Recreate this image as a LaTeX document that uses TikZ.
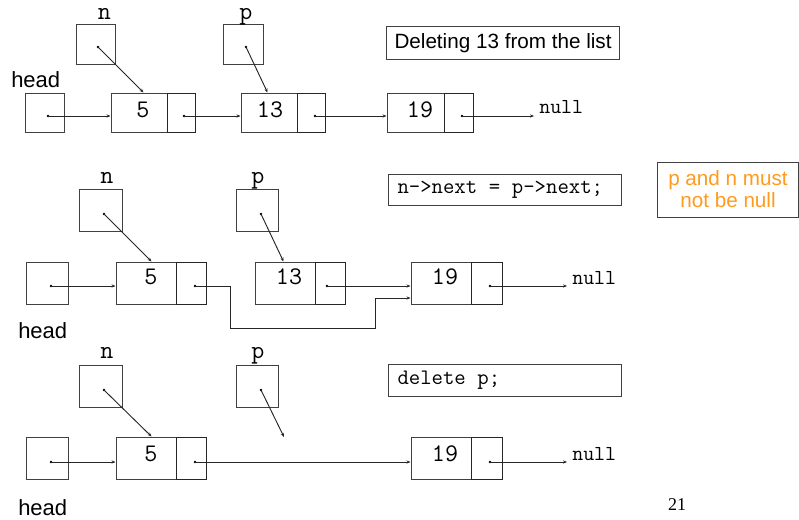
\documentclass[tikz,border=0pt]{standalone}
\usepackage{fontspec}
\setmainfont{Liberation Serif}
\setsansfont{Liberation Sans}
\usetikzlibrary{arrows.meta,calc}
\definecolor{boxline}{HTML}{404040}
\definecolor{warnorange}{HTML}{FF9A1F}
\newcommand{\monospc}{\hspace*{0.525em}}
\begin{document}
\begin{tikzpicture}[x=0.75pt,y=-0.75pt,
  cell/.style 2 args={draw=boxline, line width=0.75pt, inner sep=0pt, minimum width=#1, minimum height=#2},
  pcell/.style 2 args={draw=black!85, line width=0.75pt, inner sep=0pt, minimum width=#1, minimum height=#2},
  ptr/.style={draw=black!85, line width=0.7pt, -{Stealth[length=3pt,width=2.4pt]}},
  dotmark/.style={fill=black},
  lbl/.style={font=\fontsize{16.5}{19}\sffamily, inner sep=0pt},
  var/.style={font=\fontsize{19}{22}\ttfamily, inner sep=0pt, anchor=base},
  num/.style={font=\fontsize{19}{22}\ttfamily, inner sep=0pt, anchor=base},
  nulltxt/.style={font=\fontsize{16}{18}\ttfamily, inner sep=0pt, anchor=base west},
  codebox/.style={draw=boxline, line width=0.75pt, font=\fontsize{16.6}{18}\ttfamily, align=left, inner xsep=6.75pt, inner ysep=0pt, text width=161.25pt, anchor=north west},
]
\useasboundingbox (0,0) rectangle (799,519);

%% ================= Section 1 =================
\node[lbl, anchor=base west] (head1) at (11,87) {head};
\node[cell={29.25pt}{29.25pt}] (h1) at (44.5,112.5) {};
\node[cell={29.25pt}{30pt}] (n1) at (95.5,44) {};
\node[cell={30pt}{30pt}] (p1) at (243,44) {};
\node[var] (nl1) at (104.5,19) {n};
\node[var] (pl1) at (246,19) {p};
\node[cell={42pt}{29.25pt}] (d5a) at (139,112.5) {};
\node[pcell={21pt}{29.25pt}] (q5a) at (181,112.5) {};
\node[cell={42pt}{29.25pt}] (d13a) at (269,112.5) {};
\node[pcell={21pt}{29.25pt}] (q13a) at (311,112.5) {};
\node[cell={42.75pt}{29.25pt}] (d19a) at (415.5,112.5) {};
\node[pcell={21.75pt}{29.25pt}] (q19a) at (458.5,112.5) {};
\node[num] (t5a) at (143,117) {5};
\node[num] (t13a) at (270,117) {13};
\node[num] (t19a) at (420,117) {19};
\node[nulltxt] (null1) at (539,113) {null};
\node[draw=boxline, line width=0.75pt, font=\fontsize{15.5}{18}\sffamily, inner xsep=6pt, inner ysep=0pt, minimum height=24.75pt, anchor=north west] (cap1) at (386,26) {Deleting 13 from the list};

\coordinate (hd1) at (48,116);
\coordinate (nd1) at (98,47);
\coordinate (pd1) at (246,47);
\coordinate (q5d1) at (184,116);
\coordinate (q13d1) at (315,116);
\coordinate (q19d1) at (462,116);
\foreach \c in {hd1,nd1,pd1,q5d1,q13d1,q19d1} \fill[dotmark] (\c) circle[radius=1.1pt];
\draw[ptr] (hd1) -- (hd1 -| d5a.west);
\draw[ptr] (q5d1) -- (q5d1 -| d13a.west);
\draw[ptr] (q13d1) -- (q13d1 -| d19a.west);
\draw[ptr, shorten >=3.75pt] (q19d1) -- (q19d1 -| null1.west);
\draw[ptr] (nd1) -- ($(d5a.north west)+(33,0)$);
\draw[ptr] (pd1) -- ($(d13a.north west)+(27,0)$);

%% ================= Section 2 =================
\node[lbl, anchor=base west] (head2) at (18,338) {head};
\node[cell={31.5pt}{31.5pt}] (h2) at (47,283) {};
\node[cell={32.25pt}{31.5pt}] (n2) at (100.5,210) {};
\node[cell={31.5pt}{31.5pt}] (p2) at (257,210) {};
\node[var] (nl2) at (107,183) {n};
\node[var] (pl2) at (258,183) {p};
\node[cell={45pt}{31.5pt}] (d5b) at (146,283) {};
\node[pcell={22.5pt}{31.5pt}] (q5b) at (191,283) {};
\node[cell={45pt}{31.5pt}] (d13b) at (285,283) {};
\node[pcell={22.5pt}{31.5pt}] (q13b) at (330,283) {};
\node[cell={45pt}{31.5pt}] (d19b) at (441,283) {};
\node[pcell={23.25pt}{31.5pt}] (q19b) at (486.5,283) {};
\node[num] (t5b) at (151,284) {5};
\node[num] (t13b) at (289,284) {13};
\node[num] (t19b) at (445,284) {19};
\node[nulltxt] (null2) at (572,284) {null};
\node[codebox, minimum height=23.25pt] (cap2) at (388,174) {n->next\monospc=\monospc p->next;};
\node[draw=boxline, line width=0.75pt, text=warnorange, font=\fontsize{15.5}{16.5}\sffamily, align=center, inner sep=0pt, minimum width=105.75pt, minimum height=41.25pt] (warn) at (728,189.5) {p and n must\\not be null};

\coordinate (hd2) at (51,286);
\coordinate (nd2) at (104,214);
\coordinate (pd2) at (261,214);
\coordinate (q5d2) at (195,286);
\coordinate (q13d2) at (327,286);
\coordinate (q19d2) at (490,286);
\foreach \c in {hd2,nd2,pd2,q5d2,q13d2,q19d2} \fill[dotmark] (\c) circle[radius=1.1pt];
\draw[ptr] (hd2) -- (hd2 -| d5b.west);
\draw[ptr] (q13d2) -- (q13d2 -| d19b.west);
\draw[ptr] (q5d2) -- ++(35,0) -- ++(0,42) -- ++(145,0) |- ($(d19b.west)+(0,15)$);
\draw[ptr, shorten >=3.75pt] (q19d2) -- (q19d2 -| null2.west);
\draw[ptr] (nd2) -- ($(d5b.north west)+(36,0)$);
\draw[ptr] (pd2) -- ($(d13b.north west)+(29,0)$);

%% ================= Section 3 =================
\node[lbl, anchor=base west] (head3) at (18,515) {head};
\node[cell={31.5pt}{31.5pt}] (h3) at (47,458) {};
\node[cell={32.25pt}{31.5pt}] (n3) at (100.5,386) {};
\node[cell={31.5pt}{31.5pt}] (p3) at (257,386) {};
\node[var] (nl3) at (107,358) {n};
\node[var] (pl3) at (258,358) {p};
\node[cell={45pt}{31.5pt}] (d5c) at (146,458) {};
\node[pcell={22.5pt}{31.5pt}] (q5c) at (191,458) {};
\node[cell={45pt}{31.5pt}] (d19c) at (441,458.5) {};
\node[pcell={23.25pt}{31.5pt}] (q19c) at (486.5,458.5) {};
\node[num] (t5c) at (151,461) {5};
\node[num] (t19c) at (445,461) {19};
\node[nulltxt] (null3) at (572,460) {null};
\node[codebox, minimum height=24pt] (cap3) at (388,364) {delete\monospc p;};
\node[font=\fontsize{13.5}{16}\selectfont, inner sep=0pt, anchor=base] (page) at (677,510) {21};

\coordinate (hd3) at (51,462);
\coordinate (nd3) at (104,390);
\coordinate (pd3) at (261,390);
\coordinate (pend3) at (284,437);
\coordinate (q5d3) at (195,462);
\coordinate (q19d3) at (490,462);
\foreach \c in {hd3,nd3,pd3,q5d3,q19d3} \fill[dotmark] (\c) circle[radius=1.1pt];
\draw[ptr] (hd3) -- (hd3 -| d5c.west);
\draw[ptr] (q5d3) -- (q5d3 -| d19c.west);
\draw[ptr, shorten >=3.75pt] (q19d3) -- (q19d3 -| null3.west);
\draw[ptr] (nd3) -- ($(d5c.north west)+(36,0)$);
\draw[ptr] (pd3) -- (pend3);
\end{tikzpicture}
\end{document}
